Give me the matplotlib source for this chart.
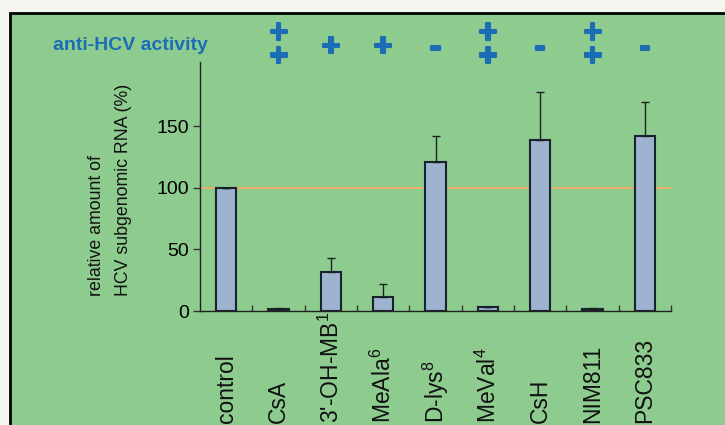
import numpy as np
import matplotlib
matplotlib.use("Agg")
import matplotlib.pyplot as plt
from matplotlib.patches import Rectangle
from matplotlib.transforms import blended_transform_factory
import matplotlib.patheffects as pe

plt.rcParams['font.family'] = ['Liberation Sans', 'DejaVu Sans']
plt.rcParams['mathtext.fontset'] = 'custom'
plt.rcParams['mathtext.rm'] = 'Liberation Sans'
plt.rcParams['mathtext.it'] = 'Liberation Sans'

# data
compounds = ["control", "CsA", "3'-OH-MB$^{1}$", "MeAla$^{6}$", "D-lys$^{8}$",
             "MeVal$^{4}$", "CsH", "NIM811", "PSC833"]
rna_pct = [100, 1.5, 32, 11.5, 120.5, 3, 139, 1.5, 142]
rna_err = [0, 1.0, 11, 10.5, 21.5, 0, 39, 1.0, 27.5]
activity = ["", "++", "+", "+", "-", "++", "-", "++", "-"]

W, H = 725, 425
GREEN = '#8dcc8e'
BLUE = '#1b6db5'

fig = plt.figure(figsize=(W / 100, H / 100), dpi=100, facecolor='#f5f5f1')
fig.patches.append(Rectangle((10 / W, -0.1), 1.2, 1.1 - 13 / H,
                             transform=fig.transFigure, facecolor=GREEN,
                             edgecolor='black', lw=2, zorder=-5))

ax = fig.add_axes([200 / W, 1 - 311 / H, 471 / W, 249 / H])
ax.patch.set_alpha(0)
ax.set_zorder(2)
x = np.arange(len(compounds))

ax.axhline(100, color='#eeae6a', lw=1.4, zorder=1)
ax.bar(x, rna_pct, width=0.39, color='#9db3cf', edgecolor='#17222d', lw=1.5,
       zorder=2, yerr=[np.zeros(len(rna_err)), rna_err], capsize=2.6,
       error_kw=dict(ecolor='#1b2020', elinewidth=1.0, capthick=1.0))

ax.set_xlim(-0.5, 8.5)
ax.set_ylim(0, 202)
ax.set_yticks([0, 50, 100, 150])
ax.set_xticks(np.arange(0.5, 9, 1))
ax.set_xticklabels([])
ax.tick_params(axis='x', direction='in', length=4, width=1, color='#333')
ax.tick_params(axis='y', direction='out', length=5, width=1, labelsize=14,
               pad=3, color='#333')
for s in ['top', 'right']:
    ax.spines[s].set_visible(False)
for s in ['left', 'bottom']:
    ax.spines[s].set_linewidth(1.0)
    ax.spines[s].set_color('#222')

tr = blended_transform_factory(ax.transData, fig.transFigure)
for xi, name in zip(x, compounds):
    ax.text(xi, 1 - 423 / H, name, transform=tr, rotation=90, ha='center',
            va='bottom', fontsize=16.5, color='#111', clip_on=False)

# activity signs above the bars
for xi, a in zip(x, activity):
    if not a:
        continue
    if a == "++":
        s, yp = "+\n+", 46
    else:
        s, yp = a, 48
    ax.text(xi, 1 - yp / H, s, transform=tr, ha='center', va='center',
            fontsize=23, fontweight='bold', color=BLUE, linespacing=0.72,
            clip_on=False,
            path_effects=[pe.withStroke(linewidth=1.5, foreground=BLUE)])

fig.text(53 / W, 1 - 45 / H, "anti-HCV activity", ha='left', va='center',
         fontsize=14, fontweight='bold', color=BLUE)

fig.text(110 / W, 1 - 296 / H, "relative amount of\nHCV subgenomic RNA (%)",
         rotation=90, ha='center', va='bottom', multialignment='left',
         linespacing=1.8, fontsize=12.8, color='#111')

fig.savefig("out.png", dpi=100, facecolor=fig.get_facecolor())
